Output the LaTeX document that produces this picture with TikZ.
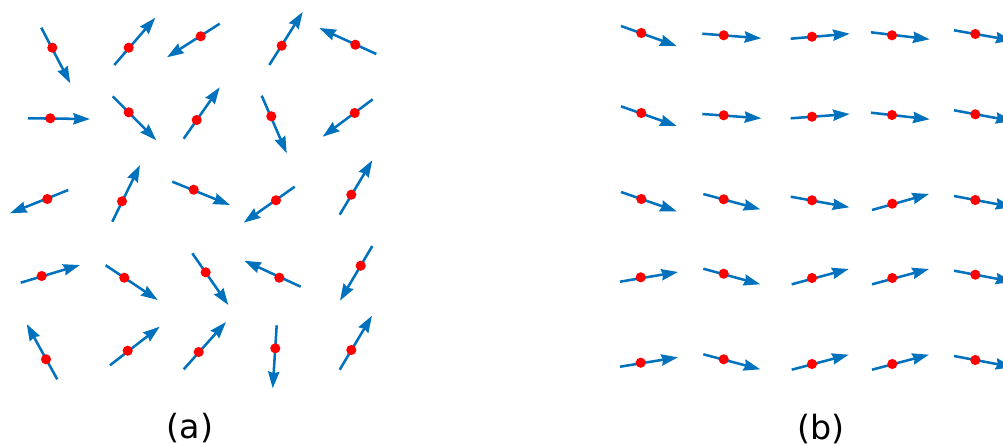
\documentclass[tikz,border=0pt]{standalone}
\usepackage{fontspec}
\setmainfont{DejaVu Sans}
\usetikzlibrary{arrows.meta}

\definecolor{spinblue}{RGB}{0,114,189}
\definecolor{pivotred}{RGB}{255,0,0}

\tikzset{
  spinarrow/.style={draw=spinblue, line width=1.9pt,
    -{Stealth[length=12.5pt, width=8.4pt, inset=1.2pt, fill=spinblue]}},
  pivot/.style={circle, fill=pivotred, inner sep=0pt, minimum size=7.6pt},
  panellabel/.style={inner sep=0pt, font=\fontsize{25}{30}\selectfont}
}

% one spin: name, tail, pivot, tip (pixel coordinates)
\newcommand\spin[4]{%
  \coordinate (#1t) at (#2);
  \coordinate (#1h) at (#4);
  \draw[spinarrow] (#1t) -- (#1h);
  \node[pivot] (#1) at (#3) {};
}

\begin{document}
\begin{tikzpicture}[x=0.75pt, y=-0.75pt]
\useasboundingbox (0,0) rectangle (1003,446);
\clip (0,0) rectangle (1003,446);

% ---- (a): disordered spins ----
\spin{a11}{41.3,27.7}{52.3,47.7}{70.3,83.3}
\spin{a12}{114.3,65}{128.7,47.7}{155.3,17.7}
\spin{a13}{219.7,23.7}{200.7,36.3}{167,57.3}
\spin{a14}{269.3,65}{281.7,45.7}{302.7,12}
\spin{a15}{376.3,54}{355.3,44.7}{319.3,28}

\spin{a21}{28,118.3}{50.3,118.3}{90,119}
\spin{a22}{112.7,96.3}{128.7,112.3}{156.3,140.3}
\spin{a23}{183.7,138.7}{196.7,120}{219.7,87.3}
\spin{a24}{261.7,95.7}{271.3,116.3}{286.7,153.3}
\spin{a25}{372.7,99.3}{354.7,113}{322.7,136.7}

\spin{a31}{68.3,190}{47.3,199}{10,213.3}
\spin{a32}{112.3,221.7}{122,201.3}{140,165}
\spin{a33}{172.3,181.7}{193.7,189.7}{230,205}
\spin{a34}{294.7,186.7}{276,200.3}{243.7,222.7}
\spin{a35}{339.7,214.7}{351.3,194.7}{372.3,160.3}

\spin{a41}{20.7,282.7}{41.7,276}{80,265}
\spin{a42}{105.7,265.3}{124.3,277.7}{157.7,300}
\spin{a43}{192.3,253.3}{205.7,272.3}{228.3,305}
\spin{a44}{300.7,286.7}{279.3,277.7}{244.3,260.7}
\spin{a45}{372.3,246}{360.7,265.7}{340,300.7}

\spin{a51}{57.3,379.3}{46,359.3}{26.7,324}
\spin{a52}{110,365.3}{127.7,350.7}{159.7,326.7}
\spin{a53}{183.7,369.3}{198.7,352}{226,322}
\spin{a54}{276.7,325.3}{275.3,348.3}{272.7,388.3}
\spin{a55}{339.7,369.7}{351.3,350}{372,315.7}

% ---- (b): nearly aligned spins ----
\spin{b11}{621,26}{641.3,33}{676.7,46}
\spin{b12}{702.3,33.7}{723.7,35.3}{761.3,38.3}
\spin{b13}{790.7,38.7}{812,36.7}{849.7,33.7}
\spin{b14}{871,32.3}{892,35.3}{929.7,39.3}
\spin{b15}{954,30.3}{975.3,34}{1012.5,40.5}

\spin{b21}{621,106.3}{641.3,113}{676.7,126}
\spin{b22}{702.3,114}{723.7,115.3}{761.3,118.3}
\spin{b23}{790.7,118.3}{812,116.7}{849.7,114}
\spin{b24}{871,112.7}{892,115}{929.7,119.3}
\spin{b25}{954,110.3}{975.3,114.3}{1012.5,121}

\spin{b31}{621,192}{641.3,199}{676.7,211.3}
\spin{b32}{703.3,194}{723.7,199.3}{760.3,209.3}
\spin{b33}{790.7,196.7}{812,200.3}{849.3,207.3}
\spin{b34}{872,210}{892.3,203.7}{929,194}
\spin{b35}{954,196}{975.3,200}{1012.5,207}

\spin{b41}{620,281.7}{640.7,277.3}{678,272}
\spin{b42}{703.3,268.7}{723.7,273.7}{760.3,284.3}
\spin{b43}{791.7,284.3}{812,278}{848.7,269}
\spin{b44}{872,284.3}{892.3,278}{929,269}
\spin{b45}{954,270.7}{975.3,274.7}{1012.5,281.7}

\spin{b51}{620,366.7}{640.7,362.7}{678,357.3}
\spin{b52}{703.3,354.3}{723.7,359.3}{760.3,369.3}
\spin{b53}{791.7,369.7}{812,364}{848.7,354.7}
\spin{b54}{872,369.7}{892.3,364}{929,354.7}
\spin{b55}{954,356}{975.3,360}{1012.5,367}

% panel labels
\node[panellabel] (labela) at (190,428) {(a)};
\node[panellabel] (labelb) at (821,429) {(b)};
\end{tikzpicture}
\end{document}
